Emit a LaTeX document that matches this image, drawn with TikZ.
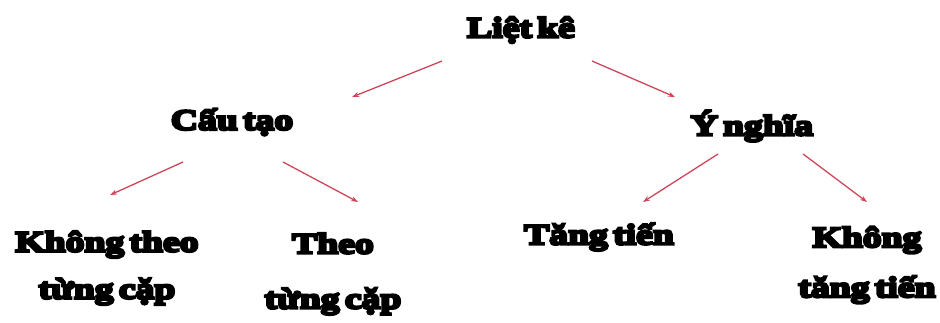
\documentclass[tikz,border=0pt]{standalone}
\usepackage{fontspec}
\setmainfont[BoldFeatures={FakeBold=9,FakeStretch=1.3,WordSpace=0.55}]{Liberation Serif}
\usetikzlibrary{arrows.meta}
\definecolor{arrowred}{RGB}{205,70,90}
\begin{document}
\begin{tikzpicture}[x=1pt,y=-1pt,
  lbl/.style={font=\fontsize{29}{47}\selectfont\bfseries, align=center, inner sep=0pt},
  conn/.style={draw=arrowred, line width=1.3pt, -{Stealth[length=7pt,width=5pt]}}]
\useasboundingbox (0,0) rectangle (940,322);
\node[lbl] (root) at (521,30) {Liệt kê};
\node[lbl] (cau) at (232,122) {Cấu tạo};
\node[lbl] (ynghia) at (752,126) {Ý nghĩa};
\node[lbl] (ktheo) at (107,268) {Không theo\\từng cặp};
\node[lbl, font=\fontsize{29}{55}\selectfont\bfseries] (theo) at (333,274) {Theo\\từng cặp};
\node[lbl] (tang) at (599,237) {Tăng tiến};
\node[lbl, font=\fontsize{29}{50}\selectfont\bfseries] (ktang) at (867,265) {Không\\tăng tiến};
\coordinate (r1s) at (442,61); \coordinate (r1e) at (352,97);
\coordinate (r2s) at (592,61); \coordinate (r2e) at (675,97);
\coordinate (c1s) at (183,162); \coordinate (c1e) at (110,195);
\coordinate (c2s) at (283,162); \coordinate (c2e) at (358,202);
\coordinate (y1s) at (718,154); \coordinate (y1e) at (643,202);
\coordinate (y2s) at (803,154); \coordinate (y2e) at (867,202);
\draw[conn] (r1s) -- (r1e);
\draw[conn] (r2s) -- (r2e);
\draw[conn] (c1s) -- (c1e);
\draw[conn] (c2s) -- (c2e);
\draw[conn] (y1s) -- (y1e);
\draw[conn] (y2s) -- (y2e);
\end{tikzpicture}
\end{document}
